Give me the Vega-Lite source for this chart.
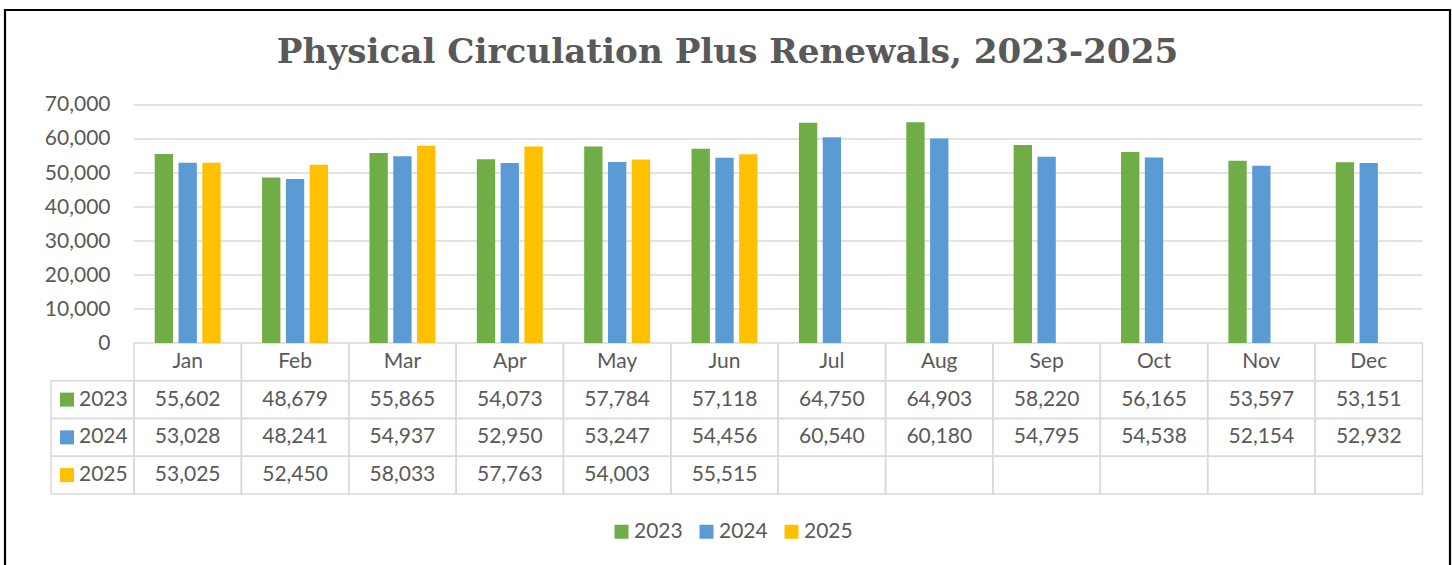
{
  "$schema": "https://vega.github.io/schema/vega-lite/v6.json",
  "width": 1445,
  "height": 558,
  "autosize": {"type": "none"},
  "padding": {"left": 5, "top": 10, "right": 2, "bottom": -3},
  "background": "white",
  "view": {"stroke": "#000000", "strokeWidth": 2.2},
  "title": {
    "text": "Physical Circulation Plus Renewals, 2023-2025",
    "font": "DejaVu Serif",
    "fontWeight": "bold",
    "fontSize": 34.2,
    "color": "#595959",
    "anchor": "middle",
    "offset": -60
  },
  "datasets": {
    "circ": [
      {"month": "Jan", "year": "2023", "value": 55602},
      {"month": "Feb", "year": "2023", "value": 48679},
      {"month": "Mar", "year": "2023", "value": 55865},
      {"month": "Apr", "year": "2023", "value": 54073},
      {"month": "May", "year": "2023", "value": 57784},
      {"month": "Jun", "year": "2023", "value": 57118},
      {"month": "Jul", "year": "2023", "value": 64750},
      {"month": "Aug", "year": "2023", "value": 64903},
      {"month": "Sep", "year": "2023", "value": 58220},
      {"month": "Oct", "year": "2023", "value": 56165},
      {"month": "Nov", "year": "2023", "value": 53597},
      {"month": "Dec", "year": "2023", "value": 53151},
      {"month": "Jan", "year": "2024", "value": 53028},
      {"month": "Feb", "year": "2024", "value": 48241},
      {"month": "Mar", "year": "2024", "value": 54937},
      {"month": "Apr", "year": "2024", "value": 52950},
      {"month": "May", "year": "2024", "value": 53247},
      {"month": "Jun", "year": "2024", "value": 54456},
      {"month": "Jul", "year": "2024", "value": 60540},
      {"month": "Aug", "year": "2024", "value": 60180},
      {"month": "Sep", "year": "2024", "value": 54795},
      {"month": "Oct", "year": "2024", "value": 54538},
      {"month": "Nov", "year": "2024", "value": 52154},
      {"month": "Dec", "year": "2024", "value": 52932},
      {"month": "Jan", "year": "2025", "value": 53025},
      {"month": "Feb", "year": "2025", "value": 52450},
      {"month": "Mar", "year": "2025", "value": 58033},
      {"month": "Apr", "year": "2025", "value": 57763},
      {"month": "May", "year": "2025", "value": 54003},
      {"month": "Jun", "year": "2025", "value": 55515},
      {"month": "Jul", "year": "2025", "value": null},
      {"month": "Aug", "year": "2025", "value": null},
      {"month": "Sep", "year": "2025", "value": null},
      {"month": "Oct", "year": "2025", "value": null},
      {"month": "Nov", "year": "2025", "value": null},
      {"month": "Dec", "year": "2025", "value": null}
    ],
    "months": [
      {"month": "Jan"}, {"month": "Feb"}, {"month": "Mar"}, {"month": "Apr"},
      {"month": "May"}, {"month": "Jun"}, {"month": "Jul"}, {"month": "Aug"},
      {"month": "Sep"}, {"month": "Oct"}, {"month": "Nov"}, {"month": "Dec"}
    ],
    "years": [{"year": "2023"}, {"year": "2024"}, {"year": "2025"}],
    "grid": [
      {"tick": 10000}, {"tick": 20000}, {"tick": 30000}, {"tick": 40000},
      {"tick": 50000}, {"tick": 60000}, {"tick": 70000}
    ]
  },
  "layer": [
    {
      "data": {"name": "grid"},
      "mark": {"type": "rule", "color": "#D9D9D9", "strokeWidth": 1.5},
      "encoding": {
        "x": {"datum": "Jan", "type": "nominal", "bandPosition": 0, "axis": null,
              "scale": {"type": "band", "domain": ["Jan","Feb","Mar","Apr","May","Jun","Jul","Aug","Sep","Oct","Nov","Dec"], "paddingInner": 0, "paddingOuter": 0.72925, "align": 0.8238}},
        "x2": {"datum": "Dec", "bandPosition": 1},
        "y": {"field": "tick", "type": "quantitative", "axis": null,
              "scale": {"domain": [-66176, 97941], "nice": false}}
      }
    },
    {
      "data": {"name": "circ"},
      "mark": {"type": "rect", "filled": false, "stroke": "#D9D9D9", "strokeWidth": 1.5},
      "encoding": {
        "x": {"field": "month", "type": "nominal", "axis": null},
        "y": {"field": "year", "type": "nominal", "axis": null,
              "scale": {"type": "band", "domain": ["Month","2023","2024","2025"], "range": [333, 484], "paddingInner": 0, "paddingOuter": 0}}
      }
    },
    {
      "data": {"name": "months"},
      "mark": {"type": "rect", "filled": false, "stroke": "#D9D9D9", "strokeWidth": 1.5},
      "encoding": {
        "x": {"field": "month", "type": "nominal", "axis": null},
        "y": {"datum": "Month", "type": "nominal", "axis": null,
              "scale": {"type": "band", "domain": ["Month","2023","2024","2025"], "range": [333, 484], "paddingInner": 0, "paddingOuter": 0}}
      }
    },
    {
      "data": {"name": "years"},
      "mark": {"type": "rect", "filled": false, "stroke": "#D9D9D9", "strokeWidth": 1.5},
      "encoding": {
        "x": {"datum": "Jan", "type": "nominal", "bandPosition": -0.7731, "axis": null},
        "x2": {"datum": "Jan", "bandPosition": 0},
        "y": {"field": "year", "type": "nominal", "axis": null,
              "scale": {"type": "band", "domain": ["Month","2023","2024","2025"], "range": [333, 484], "paddingInner": 0, "paddingOuter": 0}}
      }
    },
    {
      "data": {"name": "circ"},
      "transform": [{"filter": "isValid(datum.value)"}],
      "mark": {"type": "text", "font": "Lato", "fontSize": 21, "color": "#595959", "baseline": "middle", "align": "center"},
      "encoding": {
        "x": {"field": "month", "type": "nominal", "axis": null},
        "y": {"field": "year", "type": "nominal", "axis": null,
              "scale": {"type": "band", "domain": ["Month","2023","2024","2025"], "range": [333, 484], "paddingInner": 0, "paddingOuter": 0}},
        "text": {"field": "value", "type": "quantitative", "format": ","}
      }
    },
    {
      "data": {"name": "months"},
      "mark": {"type": "text", "font": "Lato", "fontSize": 21, "color": "#595959", "baseline": "middle", "align": "center"},
      "encoding": {
        "x": {"field": "month", "type": "nominal", "axis": null},
        "y": {"datum": "Month", "type": "nominal", "axis": null,
              "scale": {"type": "band", "domain": ["Month","2023","2024","2025"], "range": [333, 484], "paddingInner": 0, "paddingOuter": 0}},
        "text": {"field": "month", "type": "nominal"}
      }
    },
    {
      "data": {"name": "years"},
      "mark": {"type": "point", "shape": "square", "filled": true, "size": 196, "opacity": 1},
      "encoding": {
        "x": {"datum": "Jan", "type": "nominal", "bandPosition": -0.624, "axis": null},
        "y": {"field": "year", "type": "nominal", "axis": null,
              "scale": {"type": "band", "domain": ["Month","2023","2024","2025"], "range": [333, 484], "paddingInner": 0, "paddingOuter": 0}},
        "color": {"field": "year", "type": "nominal",
                  "legend": {"orient": "none", "legendX": 606, "legendY": 511, "direction": "horizontal",
                             "title": null, "symbolType": "square", "symbolSize": 196, "symbolStrokeWidth": 0,
                             "padding": 0, "labelOffset": 2, "columnPadding": 13,
                             "labelFont": "Lato", "labelFontSize": 21, "labelColor": "#595959"}}
      }
    },
    {
      "data": {"name": "years"},
      "mark": {"type": "text", "font": "Lato", "fontSize": 21, "color": "#595959", "baseline": "middle", "align": "left"},
      "encoding": {
        "x": {"datum": "Jan", "type": "nominal", "bandPosition": -0.5123, "axis": null},
        "y": {"field": "year", "type": "nominal", "axis": null,
              "scale": {"type": "band", "domain": ["Month","2023","2024","2025"], "range": [333, 484], "paddingInner": 0, "paddingOuter": 0}},
        "text": {"field": "year", "type": "nominal"}
      }
    },
    {
      "data": {"name": "circ"},
      "mark": {"type": "bar"},
      "encoding": {
        "x": {"field": "month", "type": "nominal", "axis": null},
        "xOffset": {"field": "year", "type": "nominal",
                    "scale": {"domain": ["2023","2024","2025"], "paddingInner": 0.23, "paddingOuter": 0.87}},
        "y": {"field": "value", "type": "quantitative",
              "scale": {"domain": [-66176, 97941], "nice": false},
              "axis": {"orient": "left", "offset": -129, "values": [0,10000,20000,30000,40000,50000,60000,70000],
                       "format": ",.0f", "title": null, "domain": false, "ticks": false, "grid": false,
                       "labelPadding": 24, "labelFont": "Lato", "labelFontSize": 21, "labelColor": "#595959"}},
        "color": {"field": "year", "type": "nominal",
                  "scale": {"domain": ["2023","2024","2025"], "range": ["#70AD47","#5B9BD5","#FFC000"]},
                  "legend": {"orient": "none", "legendX": 606, "legendY": 511, "direction": "horizontal",
                             "title": null, "symbolType": "square", "symbolSize": 196, "symbolStrokeWidth": 0,
                             "padding": 0, "labelOffset": 2, "columnPadding": 13,
                             "labelFont": "Lato", "labelFontSize": 21, "labelColor": "#595959"}}
      }
    }
  ],
  "resolve": {"scale": {"y": "independent"}},
  "config": {"font": "Lato"}
}
